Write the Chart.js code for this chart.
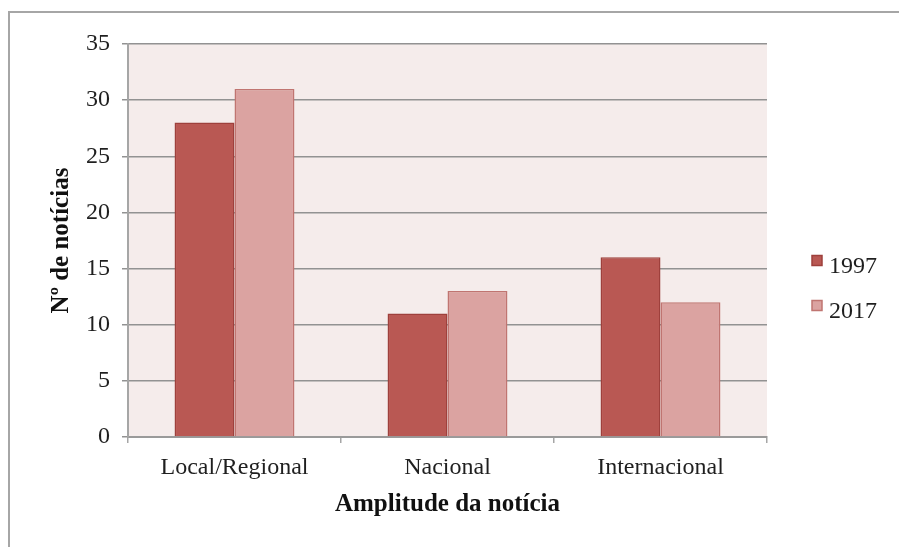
<!DOCTYPE html>
<html>
<head>
<meta charset="utf-8">
<script src="https://cdn.jsdelivr.net/npm/chart.js@4/dist/chart.umd.min.js"></script>
<style>
  html, body { margin: 0; padding: 0; background: #fff; }
  #wrap { position: relative; width: 899px; height: 547px; overflow: hidden; }
  #moldura {
    position: absolute; left: 8px; top: 11px; width: 1000px; height: 1000px;
    border-left: 2px solid #a6a6a6; border-top: 2px solid #a6a6a6;
  }
  canvas { position: absolute; left: 0; top: 0; }
</style>
</head>
<body>
<div id="wrap">
  <div id="moldura"></div>
  <canvas id="grafico" width="899" height="547"></canvas>
</div>
<script>
// Dados do gráfico
const categorias = ["Local/Regional", "Nacional", "Internacional"];
const anos = ["1997", "2017"];
const valores1997 = [28, 11, 16];
const valores2017 = [31, 13, 12];
const ticksY = [0, 5, 10, 15, 20, 25, 30, 35];

const fonteSerif = "'Liberation Serif', 'Times New Roman', serif";
const corTexto = "#1f1f1f";

// Fundo rosado da área do gráfico
const fundoPlot = {
  id: "fundoPlot",
  beforeDraw(chart) {
    const { ctx, chartArea } = chart;
    ctx.save();
    ctx.fillStyle = "#f5eceb";
    ctx.fillRect(chartArea.left, chartArea.top, chartArea.right - chartArea.left, chartArea.bottom - chartArea.top);
    ctx.restore();
  },
};

// Legenda à direita
const legendaDireita = {
  id: "legendaDireita",
  afterDraw(chart) {
    const { ctx, chartArea } = chart;
    const meio = (chartArea.top + chartArea.bottom) / 2;
    ctx.save();
    chart.data.datasets.forEach((ds, i) => {
      const y = meio + 26 + i * 45;
      const x = chartArea.right + 45;
      ctx.fillStyle = ds.backgroundColor;
      ctx.strokeStyle = ds.borderColor;
      ctx.lineWidth = 1.5;
      ctx.fillRect(x, y - 11, 10, 10);
      ctx.strokeRect(x, y - 11, 10, 10);
      ctx.fillStyle = corTexto;
      ctx.font = "24px " + fonteSerif;
      ctx.textBaseline = "middle";
      ctx.fillText(ds.label, x + 17, y);
    });
    ctx.restore();
  },
};

const ctx = document.getElementById("grafico").getContext("2d");

new Chart(ctx, {
  type: "bar",
  data: {
    labels: categorias,
    datasets: [
      {
        label: anos[0],
        data: valores1997,
        backgroundColor: "#b95853",
        borderColor: "#9e403c",
        borderWidth: 1.5,
        borderSkipped: "bottom",
      },
      {
        label: anos[1],
        data: valores2017,
        backgroundColor: "#dba3a1",
        borderColor: "#c07571",
        borderWidth: 1.5,
        borderSkipped: "bottom",
      },
    ],
  },
  options: {
    responsive: false,
    animation: false,
    devicePixelRatio: 1,
    layout: {
      padding: { left: 40, right: 132, top: 44, bottom: 27 },
    },
    categoryPercentage: 0.563,
    barPercentage: 1,
    plugins: {
      legend: { display: false },
      tooltip: { enabled: false },
    },
    scales: {
      x: {
        afterFit(scale) {
          scale.height = 83;
        },
        grid: {
          offset: true,
          drawOnChartArea: false,
          drawTicks: true,
          tickLength: 6,
          color: "#a6a6a6",
          lineWidth: 1.5,
        },
        border: { color: "#9a9a9a", width: 2 },
        ticks: {
          color: corTexto,
          padding: 10,
          font: { family: fonteSerif, size: 24 },
          maxRotation: 0,
        },
        title: {
          display: true,
          text: "Amplitude da notícia",
          color: "#111",
          padding: { top: 10, bottom: 0 },
          font: { family: fonteSerif, size: 25, weight: "bold" },
        },
      },
      y: {
        min: 0,
        max: 35,
        afterFit(scale) {
          scale.width = 88;
        },
        afterBuildTicks(scale) {
          scale.ticks = ticksY.map((v) => ({ value: v }));
        },
        grid: {
          color: "#929292",
          lineWidth: 1.5,
          tickLength: 6,
        },
        border: { color: "#a6a6a6", width: 2 },
        ticks: {
          color: corTexto,
          padding: 12,
          font: { family: fonteSerif, size: 24 },
        },
        title: {
          display: true,
          text: "Nº de notícias",
          color: "#111",
          padding: { top: 7, bottom: 0 },
          font: { family: fonteSerif, size: 25, weight: "bold" },
        },
      },
    },
  },
  plugins: [fundoPlot, legendaDireita],
});
</script>
</body>
</html>
